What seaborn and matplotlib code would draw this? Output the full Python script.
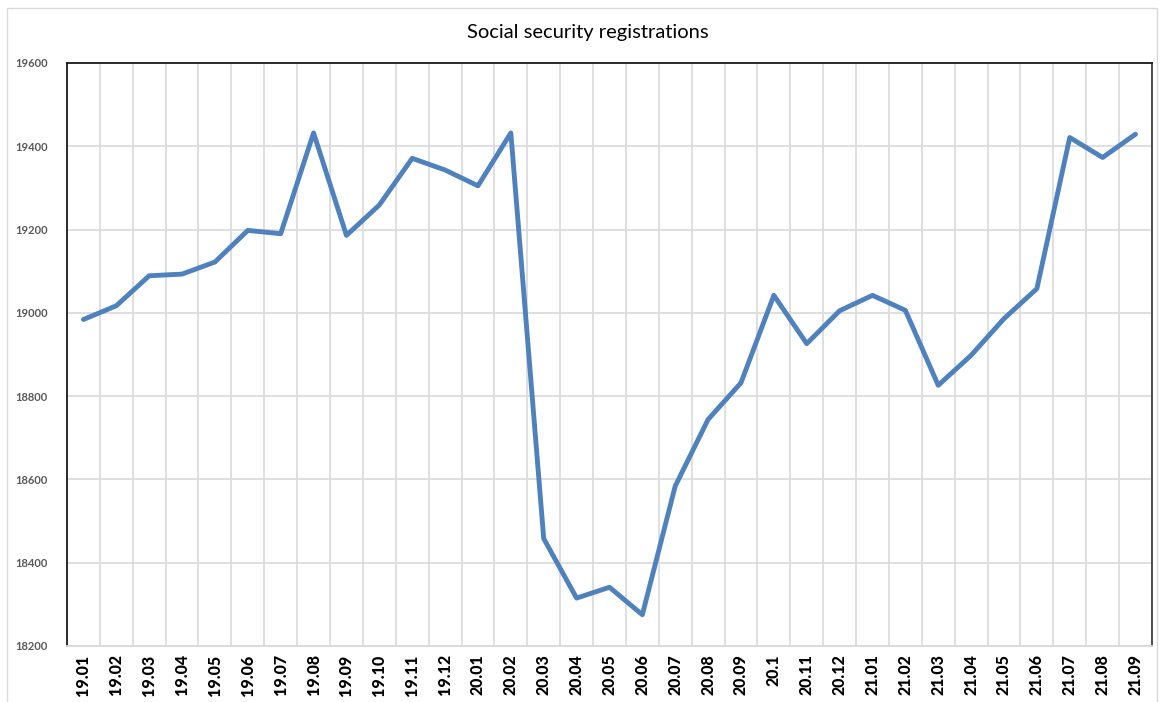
import seaborn as sns
import matplotlib.pyplot as plt
import matplotlib.patches as mpatches
import matplotlib.ticker as mticker
import numpy as np
import pandas as pd

# Monthly labels (yy.mm, as shown on the chart)
months = ["19.01", "19.02", "19.03", "19.04", "19.05", "19.06", "19.07", "19.08",
          "19.09", "19.10", "19.11", "19.12", "20.01", "20.02", "20.03", "20.04",
          "20.05", "20.06", "20.07", "20.08", "20.09", "20.1", "20.11", "20.12",
          "21.01", "21.02", "21.03", "21.04", "21.05", "21.06", "21.07", "21.08",
          "21.09"]

# Registrations (thousands)
registrations = [18984, 19017, 19089, 19093, 19122, 19198, 19190, 19432,
                 19186, 19259, 19371, 19343, 19305, 19432, 18458, 18315,
                 18341, 18275, 18584, 18744, 18832, 19042, 18926, 19005,
                 19042, 19006, 18826, 18898, 18986, 19058, 19421, 19373,
                 19429]

y_ticks = [18200, 18400, 18600, 18800, 19000, 19200, 19400, 19600]

df = pd.DataFrame({"month": months, "value": registrations})
df["pos"] = np.arange(len(df))

sns.set_theme(style="white")
plt.rcParams["font.family"] = ["Lato", "DejaVu Sans"]

fig = plt.figure(figsize=(11.61, 7.02), dpi=100)
ax = fig.add_axes([0.0577, 0.0798, 0.9345, 0.8305])

sns.lineplot(data=df, x="pos", y="value", sort=False, color="#4F81BD",
             linewidth=3.5, ax=ax)

ax.set_xlim(-0.5, len(months) - 0.5)
ax.set_ylim(18200, 19600)
ax.set_yticks(y_ticks)
ax.set_yticklabels([str(v) for v in y_ticks], fontsize=8, fontweight="bold",
                   color="#595959")
ax.set_xticks(df["pos"])
ax.set_xticklabels(months, rotation=90, fontsize=11.5, fontweight="black",
                   color="black")
ax.xaxis.set_minor_locator(mticker.FixedLocator(np.arange(-0.5, len(months), 1)))
ax.tick_params(axis="both", which="both", length=0)
ax.tick_params(axis="y", pad=14)
ax.tick_params(axis="x", pad=6)

ax.grid(axis="y", which="major", color="#dcdcdc", linewidth=1.3)
ax.grid(axis="x", which="minor", color="#dcdcdc", linewidth=1.3)
ax.set_axisbelow(True)

ax.set_xlabel("")
ax.set_ylabel("")

for side in ["left", "top"]:
    ax.spines[side].set_color("#1a1a1a")
    ax.spines[side].set_linewidth(1.3)
ax.spines["right"].set_color("#404040")
ax.spines["right"].set_linewidth(1.3)
ax.spines["bottom"].set_color("#d9d9d9")
ax.spines["bottom"].set_linewidth(1.3)

fig.text(0.5065, 0.953, "Social security registrations", ha="center",
         va="center", fontsize=14.5, color="black")

# outer chart-area frame
frame = mpatches.Rectangle((7 / 1161, -0.01), 1150 / 1161, 0.998,
                           transform=fig.transFigure, fill=False,
                           edgecolor="#d9d9d9", linewidth=1.0)
fig.patches.append(frame)

fig.savefig("out.png", dpi=100)
plt.close(fig)
